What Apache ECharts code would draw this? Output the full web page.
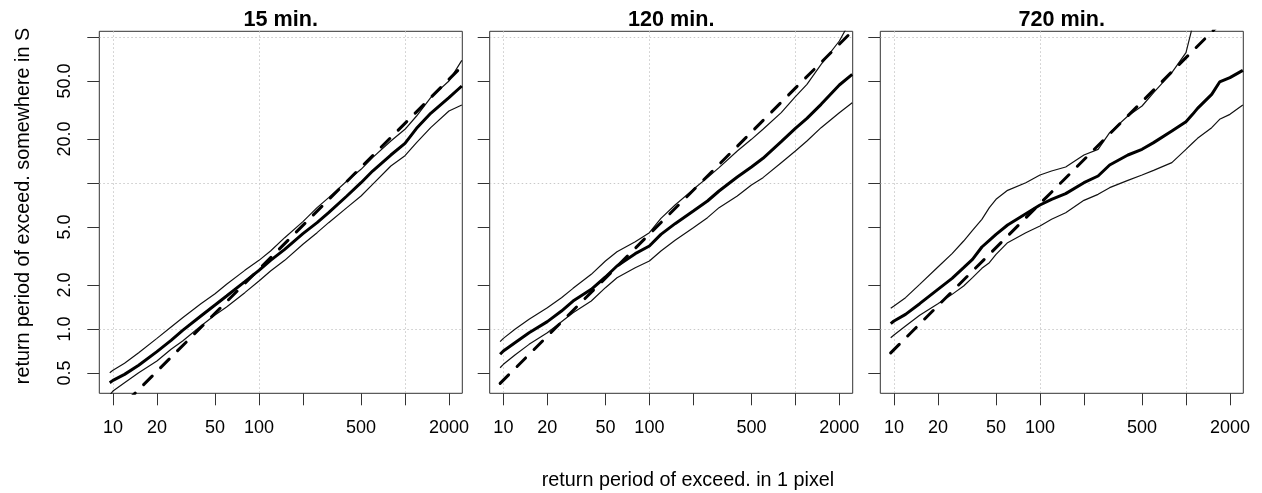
<!DOCTYPE html>
<html>
<head>
<meta charset="utf-8">
<script src="https://cdn.jsdelivr.net/npm/echarts@6/dist/echarts.min.js"></script>
<style>
  html, body { margin: 0; padding: 0; background: #fff; }
  #chart { width: 1262px; height: 493px; }
</style>
</head>
<body>
<div id="chart"></div>
<script>
// Return period of exceedance in one pixel (x) versus somewhere in S (y),
// for three rainfall durations. Median curve, envelope curves, reference line.

const periods = [9.5, 10, 12, 15, 20, 25, 30, 40, 50, 60, 80, 100, 120, 150, 200, 250, 300, 400, 500, 600, 800, 1000, 1200, 1500, 2000, 2450];

const median15 = [0.429, 0.445, 0.489, 0.564, 0.700, 0.836, 0.979, 1.228, 1.460, 1.683, 2.110, 2.522, 2.953, 3.513, 4.498, 5.350, 6.262, 8.147, 10.05, 12.08, 15.55, 18.70, 23.68, 30.00, 38.42, 46.17];
const upper15  = [0.502, 0.521, 0.582, 0.688, 0.863, 1.032, 1.196, 1.491, 1.746, 2.023, 2.522, 2.953, 3.421, 4.222, 5.435, 6.779, 7.935, 10.32, 12.41, 14.91, 19.40, 23.32, 28.76, 38.42, 49.95, 69.22];
const lower15  = [0.353, 0.376, 0.429, 0.502, 0.604, 0.726, 0.828, 1.048, 1.247, 1.415, 1.774, 2.132, 2.496, 2.953, 3.802, 4.569, 5.350, 6.779, 8.147, 9.792, 13.08, 15.39, 18.90, 23.93, 31.13, 34.22];

const median120 = [0.671, 0.707, 0.806, 0.944, 1.123, 1.328, 1.555, 1.869, 2.271, 2.701, 3.281, 3.702, 4.450, 5.266, 6.431, 7.529, 8.815, 10.99, 12.87, 14.76, 19.19, 23.68, 27.73, 34.58, 46.91, 55.52];
const upper120  = [0.819, 0.863, 0.995, 1.165, 1.400, 1.639, 1.899, 2.368, 2.922, 3.386, 3.965, 4.569, 5.728, 7.068, 9.050, 10.88, 12.74, 16.57, 19.91, 23.32, 30.32, 39.03, 47.41, 65.00, 93.88, 135.7];
const lower120  = [0.543, 0.573, 0.664, 0.785, 0.944, 1.123, 1.294, 1.555, 1.919, 2.247, 2.631, 2.922, 3.421, 4.049, 4.944, 5.789, 6.779, 8.147, 9.690, 10.88, 13.78, 16.57, 19.40, 23.93, 30.32, 35.50];

const periods720 = [9.5, 10, 12, 15, 20, 25, 30, 34.5, 40, 45, 50, 60, 80, 100, 120, 150, 200, 250, 300, 400, 500, 600, 800, 1000, 1110, 1200, 1500, 1700, 2000, 2450];
const median720 = [1.088, 1.134, 1.260, 1.491, 1.870, 2.223, 2.631, 3.000, 3.645, 4.050, 4.450, 5.157, 6.166, 7.068, 7.731, 8.454, 10.05, 11.17, 13.28, 15.55, 17.01, 18.90, 22.71, 26.31, 29.53, 32.46, 40.49, 49.19, 52.66, 59.12];
const upper720  = [1.385, 1.437, 1.639, 2.023, 2.659, 3.281, 4.006, 4.741, 5.639, 6.779, 7.731, 8.908, 10.05, 11.34, 12.08, 12.87, 15.55, 17.01, 22.12, 28.76, 33.68, 41.56, 56.97, 78.10, 118.9, null, null, null, null, null];
const lower720  = [0.872, 0.910, 1.048, 1.241, 1.491, 1.727, 1.970, 2.247, 2.603, 2.847, 3.246, 3.903, 4.569, 5.076, 5.639, 6.262, 7.609, 8.364, 9.290, 10.43, 11.34, 12.21, 13.78, 17.01, 18.79, 20.23, 23.93, 27.30, 29.53, 34.22];

// Reference line (end points) for each duration
const ref15  = [[9.5, 0.2436], [2450, 62.8]];
const ref120 = [[9.5, 0.424], [2450, 109.4]];
const ref720 = [[9.5, 0.686], [2450, 176.9]];

const titles = ['15 min.', '120 min.', '720 min.'];

const xTicks = [10, 20, 50, 100, 200, 500, 1000, 2000];
const xTickLabels = [10, 20, 50, 100, 500, 2000];
const yTicks = [0.5, 1, 2, 5, 10, 20, 50, 100];
const yTickLabels = [0.5, 1, 2, 5, 20, 50];

const xRange = [8.06, 2469];
const yRange = [0.3628, 109.4];

const panels = [
  { x: periods,    median: median15,  upper: upper15,  lower: lower15,  ref: ref15 },
  { x: periods,    median: median120, upper: upper120, lower: lower120, ref: ref120 },
  { x: periods720, median: median720, upper: upper720, lower: lower720, ref: ref720 }
];

const FONT = '"Liberation Sans", Arial, Helvetica, sans-serif';
const gridLeft = [99.3, 489.7, 880.3];
const gridTop = 31.3, gridW = 363, gridH = 362;

function pairs(xs, ys) {
  return xs.map((v, k) => [v, ys[k]]).filter(p => p[1] != null);
}

const grid = [], xAxis = [], yAxis = [], series = [], graphic = [];

panels.forEach((p, i) => {
  grid.push({
    left: gridLeft[i], top: gridTop, width: gridW, height: gridH,
    show: true, borderColor: '#333', borderWidth: 1, backgroundColor: 'transparent',
    containLabel: false, outerBoundsMode: 'none'
  });
});

const dotted = { color: '#c9c9c9', width: 1, type: [1.5, 2.5] };

// log axes carrying the data and the decade grid lines
panels.forEach((p, i) => {
  xAxis.push({
    type: 'log', logBase: 10, gridIndex: i, position: 'top',
    min: xRange[0], max: xRange[1],
    axisLine: { show: false }, axisTick: { show: false }, axisLabel: { show: false },
    splitLine: { show: true, showMinLine: false, showMaxLine: false, lineStyle: dotted }
  });
  yAxis.push({
    type: 'log', logBase: 10, gridIndex: i, position: 'right',
    min: yRange[0], max: yRange[1],
    axisLine: { show: false }, axisTick: { show: false }, axisLabel: { show: false },
    splitLine: { show: true, showMinLine: false, showMaxLine: false, lineStyle: dotted }
  });
});

// tick axes in log10 units, with the 1-2-5 tick marks and labels
panels.forEach((p, i) => {
  xAxis.push({
    type: 'value', gridIndex: i, position: 'bottom',
    min: Math.log10(xRange[0]), max: Math.log10(xRange[1]),
    axisLine: { show: false },
    axisTick: { show: true, length: 12, customValues: xTicks.map(Math.log10), lineStyle: { color: '#333', width: 1 } },
    axisLabel: {
      show: true, customValues: xTickLabels.map(Math.log10), margin: 26,
      formatter: v => String(Math.round(Math.pow(10, v))),
      fontSize: 18, color: '#000', fontFamily: FONT
    },
    splitLine: { show: false }
  });
  yAxis.push({
    type: 'value', gridIndex: i, position: 'left',
    min: Math.log10(yRange[0]), max: Math.log10(yRange[1]),
    axisLine: { show: false },
    axisTick: { show: true, length: 12, customValues: yTicks.map(Math.log10), lineStyle: { color: '#333', width: 1 } },
    axisLabel: {
      show: i === 0, customValues: yTickLabels.map(Math.log10), margin: 25, rotate: 90,
      formatter: v => Math.pow(10, v).toFixed(1),
      fontSize: 18, color: '#000', fontFamily: FONT
    },
    splitLine: { show: false }
  });
});

panels.forEach((p, i) => {
  const base = { type: 'line', xAxisIndex: i, yAxisIndex: i, symbol: 'none', showSymbol: false,
                 clip: true, silent: true, animation: false, smooth: false };
  series.push(Object.assign({}, base, { name: 'lower', data: pairs(p.x, p.lower),
    lineStyle: { color: '#111', width: 1.2 } }));
  series.push(Object.assign({}, base, { name: 'upper', data: pairs(p.x, p.upper),
    lineStyle: { color: '#111', width: 1.2 } }));
  series.push(Object.assign({}, base, { name: 'median', data: pairs(p.x, p.median),
    lineStyle: { color: '#000', width: 3 } }));
  series.push(Object.assign({}, base, { name: 'reference', data: p.ref,
    lineStyle: { color: '#000', width: 3, type: [12, 12], cap: 'round' } }));

  graphic.push({
    type: 'text', x: gridLeft[i] + gridW / 2, y: 20, silent: true,
    style: { text: titles[i], font: 'bold 21.6px ' + FONT, fill: '#000',
             align: 'center', verticalAlign: 'middle', textAlign: 'center', textVerticalAlign: 'middle' }
  });
});

graphic.push({
  type: 'text', x: 24, y: 206, rotation: Math.PI / 2, silent: true,
  style: { text: 'return period of exceed. somewhere in S', font: '19.8px ' + FONT, fill: '#000',
           align: 'center', verticalAlign: 'middle', textAlign: 'center', textVerticalAlign: 'middle' }
});
graphic.push({
  type: 'text', x: 688, y: 481, silent: true,
  style: { text: 'return period of exceed. in 1 pixel', font: '19.8px ' + FONT, fill: '#000',
           align: 'center', verticalAlign: 'middle', textAlign: 'center', textVerticalAlign: 'middle' }
});

const chart = echarts.init(document.getElementById('chart'), null, { renderer: 'canvas' });
chart.setOption({
  backgroundColor: '#fff',
  animation: false,
  grid, xAxis, yAxis, series, graphic
});
</script>
</body>
</html>
